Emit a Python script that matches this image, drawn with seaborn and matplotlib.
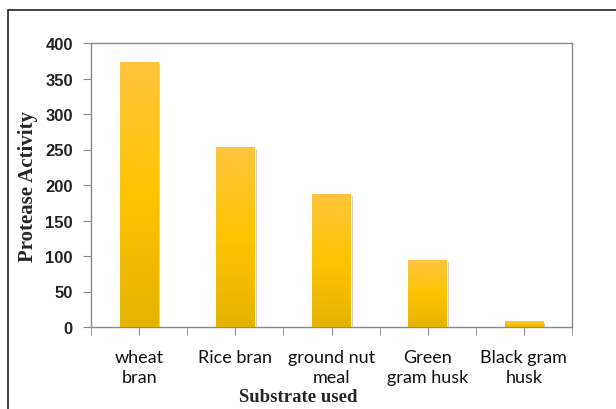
import numpy as np
import pandas as pd
import matplotlib
matplotlib.use("Agg")
import matplotlib.pyplot as plt
import matplotlib.patheffects as pe
from matplotlib.colors import LinearSegmentedColormap
from matplotlib.lines import Line2D
import seaborn as sns

substrates = ["wheat\nbran", "Rice bran", "ground nut\nmeal", "Green\ngram husk", "Black gram\nhusk"]
activity = [372, 253, 186, 93, 8]
y_ticks = [0, 50, 100, 150, 200, 250, 300, 350, 400]

df = pd.DataFrame({"substrate": substrates, "activity": activity})

sns.set_style("white")
fig = plt.figure(figsize=(6.16, 4.10), dpi=100)
ax = fig.add_axes([91 / 616, 82 / 410, 481 / 616, 284 / 410])

sns.barplot(data=df, x="substrate", y="activity", color="#FFC600", width=0.4, ax=ax)

# excel-style vertical gradient on each bar
grad = LinearSegmentedColormap.from_list("gold", ["#E4B200", "#FFC500", "#FFC43E"])
img = np.linspace(0, 1, 256).reshape(-1, 1)
for bar in ax.patches:
    x0, w, h = bar.get_x(), bar.get_width(), bar.get_height()
    bar.set_path_effects([pe.SimplePatchShadow(offset=(1.5, -1), shadow_rgbFace="#808080", alpha=0.45), pe.Normal()])
    ax.imshow(img, extent=[x0, x0 + w, 0, h], origin="lower", cmap=grad, aspect="auto", zorder=3)

ax.set_xlim(-0.5, len(substrates) - 0.5)
ax.set_ylim(0, 400)
ax.set_yticks(y_ticks)

for side in ["left", "bottom", "top", "right"]:
    ax.spines[side].set_visible(True)
    ax.spines[side].set_color("#8a8a8a")
    ax.spines[side].set_linewidth(1.0)

ax.set_xticks(np.arange(-0.5, len(substrates), 1.0), minor=True)
ax.tick_params(axis="x", which="both", direction="out", length=6, color="#8a8a8a", bottom=True, pad=10)
ax.tick_params(axis="y", direction="out", length=6, color="#8a8a8a", left=True, pad=7)

for lab in ax.get_xticklabels():
    lab.set_fontfamily("Lato")
    lab.set_fontsize(13)
    lab.set_color("#111111")
    lab.set_linespacing(1.3)
for lab in ax.get_yticklabels():
    lab.set_fontfamily("Liberation Sans")
    lab.set_fontsize(12)
    lab.set_fontweight("bold")
    lab.set_color("#222222")

ax.set_xlabel("Substrate used", family="Liberation Serif", fontsize=13.5, fontweight="bold")
ax.xaxis.set_label_coords(0.43, -0.215)
ax.set_ylabel("Protease Activity", family="Liberation Serif", fontsize=15, fontweight="bold")
ax.yaxis.set_label_coords(-0.11, 0.5)

# outer chart border
fig.add_artist(Line2D([8 / 616, 8 / 616], [0, 1 - 11 / 410], color="#222222", lw=1.2))
fig.add_artist(Line2D([8 / 616, 1], [1 - 11 / 410, 1 - 11 / 410], color="#222222", lw=1.2))

fig.savefig("out.png", dpi=100)
